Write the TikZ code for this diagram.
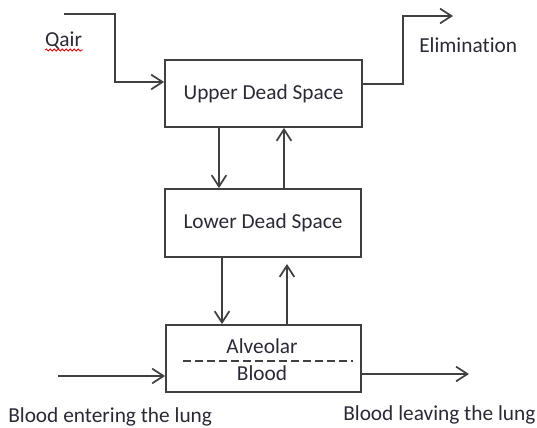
\documentclass[tikz,border=0pt]{standalone}
\usepackage{fontspec}
\setmainfont{Carlito}[Ligatures={NoCommon}]
\usetikzlibrary{arrows.meta,decorations.pathmorphing}
\definecolor{linec}{RGB}{64,64,64}
\definecolor{textc}{RGB}{42,42,55}
\begin{document}
\begin{tikzpicture}[x=0.75pt,y=-0.75pt,
  font=\fontsize{16}{19}\selectfont,
  every node/.style={text=textc},
  boxstyle/.style={draw=linec,line width=1.3pt,rectangle,inner sep=0pt},
  arr/.style={draw=linec,line width=1.3pt,-{Straight Barb[length=8.5pt,width=11pt,line width=1.3pt]}},
  lbl/.style={inner sep=0pt}]
\useasboundingbox (0,0) rectangle (537,428);
% boxes
\node[boxstyle,minimum width=147.75pt,minimum height=50.25pt] (up) at (263.5,93.5) {Upper Dead Space};
\node[boxstyle,minimum width=147pt,minimum height=51pt] (low) at (263,223) {Lower Dead Space};
\node[boxstyle,minimum width=146.25pt,minimum height=50.25pt] (bot) at (263.5,358.5) {};
\node[lbl] (alv) at (262,346) {Alveolar};
\node[lbl] (bld) at (262,373.5) {Blood};
\coordinate (dl) at (183,361);
\coordinate (dr) at (353,361);
\draw[linec,line width=1.3pt,dash pattern=on 6pt off 3pt] (dl) -- (dr);
% labels
\node[lbl] (qair) at (63.5,41) {Qair};
\coordinate (wl) at (45,50);
\coordinate (wr) at (83,50);
\draw[red!85!black,line width=0.6pt,decorate,decoration={snake,amplitude=0.8pt,segment length=3pt}] (wl) -- (wr);
\node[lbl,anchor=west] (elim) at (419,45) {Elimination};
\node[lbl,anchor=west] (bent) at (8,417) {Blood entering the lung};
\node[lbl,anchor=west] (blea) at (343,415) {Blood leaving the lung};
% connectors
\coordinate (qs) at (64,14);
\coordinate (qk) at (115,82);
\draw[arr] (qs) -| (qk) -- (up.west |- qk);
\coordinate (ek) at (403,84);
\coordinate (ee) at (453,16);
\draw[arr] (up.east |- ek) -- (ek) |- (ee);
\coordinate (x219) at (219,0);
\coordinate (x284) at (284,0);
\coordinate (x222) at (222,0);
\draw[arr] (up.south -| x219) -- (low.north -| x219);
\draw[arr] (low.north -| x284) -- (up.south -| x284);
\draw[arr] (low.south -| x222) -- (bot.north -| x222);
\coordinate (t263) at (287,264);
\draw[arr] (bot.north -| t263) -- (t263);
\coordinate (bin) at (58,376);
\coordinate (bout) at (469,374);
\draw[arr] (bin) -- (bot.west |- bin);
\draw[arr] (bot.east |- bout) -- (bout);
\end{tikzpicture}
\end{document}
